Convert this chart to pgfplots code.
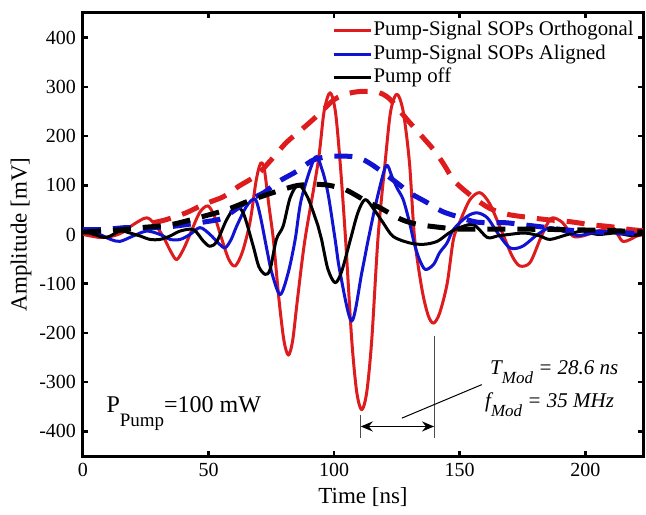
\documentclass[border=0pt]{standalone}
\usepackage{fontspec}
\setmainfont{Liberation Serif}
\usepackage{pgfplots}
\pgfplotsset{compat=1.18}
\usetikzlibrary{arrows.meta}
\definecolor{mred}{RGB}{222,28,30}
\definecolor{mblue}{RGB}{18,18,210}

\begin{document}
\begin{tikzpicture}
\begin{axis}[
  scale only axis, width=280pt, height=221.5pt,
  xmin=0, xmax=223, ymin=-450, ymax=450,
  xtick={0,50,...,200}, ytick={-400,-300,...,400},
  tick align=inside, major tick length=2.6pt,
  axis line style={line width=1.5pt},
  every tick/.style={line width=1.3pt, black},
  tick label style={font=\fontsize{10}{12}\selectfont},
  /pgf/number format/assume math mode=true,
  xlabel={Time [ns]}, ylabel={Amplitude [mV]},
  label style={font=\fontsize{11.5}{13}\selectfont},
  xlabel style={at={(axis description cs:0.5,-0.0926)}, anchor=center},
  ylabel style={at={(axis description cs:-0.1107,0.5)}, anchor=center},
  legend style={draw=none, fill=none, at={(rel axis cs:0.4446,0.988)}, anchor=north west,
    font=\fontsize{10.4}{12}\selectfont, inner sep=0pt, row sep=0pt,
    nodes={inner xsep=0.6pt, inner ysep=1pt, text height=7.4pt, text depth=2.4pt}},
  legend cell align=left,
  legend image code/.code={\draw[#1] (0pt,0pt) -- (18.5pt,0pt);},
  every axis plot/.append style={line join=round},
]
% solid traces
\addplot[mred, line width=1.5pt, smooth] coordinates {
(0,0) (3,-3) (7,-6) (12,-3) (16,5) (20,20) (25.4,34) (29,18) (32,-5) (35,-35) (37.3,-51) (40,-30) (43,5) (46.5,45) (49.8,58) (52.5,35) (55,-5) (58,-50) (60.6,-64) (63.5,-35) (66.5,25) (68.8,105) (70.2,138) (71.2,146) (72.3,130) (74,60) (75.8,-10) (78,-130) (80,-215) (81.8,-245) (83.5,-215) (85.4,-132) (88.4,-10) (93.6,146) (96,250) (98.4,288) (100.5,250) (102.4,146) (104.5,-5) (107,-213) (109,-320) (111,-356) (113,-320) (115,-213) (117.5,-5) (120.3,146) (122.5,250) (125,285) (127.5,250) (130,146) (132,-5) (135,-112) (137.5,-165) (139.6,-180) (142,-160) (145,-100) (147.5,-10) (150,25) (154,70) (158,85) (162,62) (167.5,-3) (171,-45) (174,-64) (178,-57) (182,-10) (184.7,20) (187,34) (191,24) (195,-3) (199,-3) (205,7) (211,14) (215,-14) (220.6,-3) (223,0)
};
\addlegendentry{Pump-Signal SOPs Orthogonal}
\addplot[mblue, line width=1.5pt, smooth] coordinates {
(0,10) (3,8) (6.8,0) (11,-10) (14.7,-14) (20,-3) (25.4,7) (30.7,0) (34.7,-10) (38.7,-10) (42.6,0) (46.6,14) (50.6,0) (54,-18) (56.6,-27) (59,-10) (61.2,17) (65.2,58) (68.5,72) (70.5,40) (73.2,-30) (75.2,-78) (78.5,-122) (81.7,-78) (84.5,-10) (87,73) (92.4,157) (95,135) (97.5,85) (100.4,-10) (102.4,-78) (107,-176) (111,-78) (113.6,-10) (117,71) (120.7,140) (123,118) (125,95) (127.5,71) (130,25) (132,-20) (134,-51) (136.3,-71) (139.6,-61) (142,-37) (145,-17) (147.5,10) (153,37) (157,44) (161,34) (165,4) (170,-27) (175,-24) (181,0) (186,14) (191,7) (197,-2) (203,3) (211,7) (219,3) (223,3)
};
\addlegendentry{Pump-Signal SOPs Aligned}
\addplot[black, line width=1.5pt, smooth] coordinates {
(0,7) (4.5,0) (9.4,-6) (14.7,7) (18.7,3) (22.7,-3) (26.7,-10) (30.7,-10) (34.7,-3) (38.7,7) (44,10) (48,-14) (50.6,-24) (53.3,-14) (57.2,30) (60.6,55) (63.8,44) (67.8,-24) (70,-65) (72.5,-81) (74.5,-71) (77,-10) (79.7,17) (82.5,75) (85.8,101) (89.5,75) (93.6,17) (95,-10) (97.5,-70) (100.4,-98) (103,-75) (106.5,-10) (109.5,45) (112.4,71) (116,50) (119.5,24) (123.5,-4) (130,-17) (135.5,-20) (141,-14) (146,4) (150,14) (155.5,20) (161,-6) (165,-3) (169.5,0) (176,3) (182,-3) (186,-10) (193,0) (199,7) (205,0) (212,3) (218,-2) (223,0)
};
\addlegendentry{Pump off}
% envelopes
\addplot[mred, line width=2.5pt, dash pattern=on 9pt off 6pt, smooth, forget plot] coordinates {
(28,24) (33,30) (41,44) (48,61) (56,77) (62,98) (69,120) (75,152) (81,187) (87,213) (93,240) (100,274) (106,287) (112,291) (118,288) (122,276) (126,252) (130,228) (134,205) (140,170) (144,140) (148,108) (155,77) (162,53) (169,41) (177,35) (185,30) (194,26) (202,20) (210,16) (218,10) (223,8)
};
\addplot[mblue, line width=2.5pt, dash pattern=on 9pt off 6pt, smooth, forget plot] coordinates {
(0,10) (8,10) (17,14) (25,14) (33,15) (41,20) (49,26) (55,32) (60,48) (66,70) (72,85) (78,108) (85,128) (92,152) (100,159) (109,157) (115,142) (125,105) (130,85) (137,65) (143,47) (150,35) (157,25) (168,24) (175,20) (185,14) (191,10) (201,6) (209,4) (217,3) (223,1)
};
\addplot[black, line width=2.5pt, dash pattern=on 9pt off 6pt, smooth, forget plot] coordinates {
(0,5) (16,10) (23,14) (35,20) (48,37) (57,50) (66,68) (75,84) (84,98) (88.5,101) (96.5,101) (104.5,91) (113,67) (118,55) (127,30) (134,20) (143,14) (150,11) (170,11) (190,10) (210,8) (223,5)
};
% annotations
\draw[line width=0.5pt, black!70] (axis cs:110.6,-366) -- (axis cs:110.6,-413);
\draw[line width=0.5pt, black!70] (axis cs:139.8,-207) -- (axis cs:139.8,-413);
\draw[line width=0.8pt, {Stealth[length=6pt,width=5pt]}-{Stealth[length=6pt,width=5pt]}] (axis cs:110.6,-390) -- (axis cs:139.8,-390);
\draw[line width=0.5pt] (axis cs:127,-373) -- (axis cs:158.8,-305);
\node[anchor=base west, inner sep=0pt, font=\fontsize{10.5}{12}\selectfont\itshape] at (axis cs:162,-285)
  {T\raisebox{-4.5pt}{\fontsize{8.5}{10}\selectfont Mod} = 28.6 ns};
\node[anchor=base west, inner sep=0pt, font=\fontsize{10.5}{12}\selectfont\itshape] at (axis cs:160,-352)
  {f\raisebox{-4.5pt}{\fontsize{8.5}{10}\selectfont Mod} = 35 MHz};
\node[anchor=base west, inner sep=0pt, font=\fontsize{12}{14}\selectfont] at (axis cs:9.2,-362)
  {P\raisebox{-7pt}{\fontsize{9.5}{11}\selectfont Pump}=100 mW};
\end{axis}
\pgfresetboundingbox
\path ([shift={(-41.5pt,-29pt)}]current axis.south west) rectangle ([shift={(1.5pt,6.5pt)}]current axis.north east);
\end{tikzpicture}
\end{document}
